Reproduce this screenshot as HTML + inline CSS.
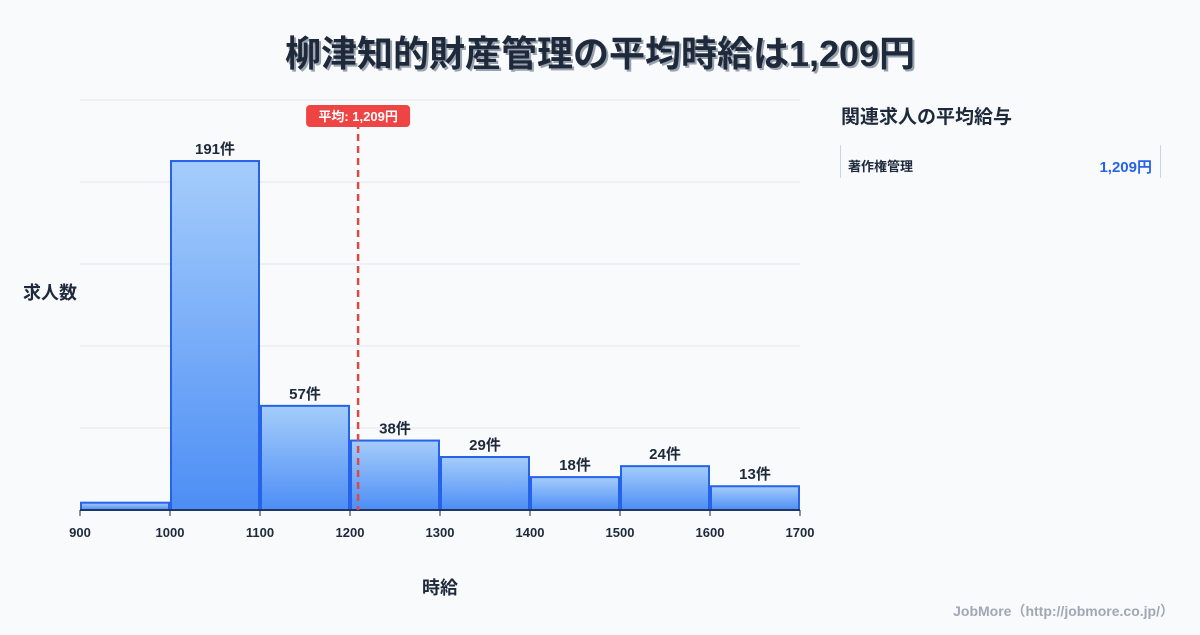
<!DOCTYPE html>
<html><head><meta charset="utf-8"><style>
body{margin:0;background:#f8fafc;width:1200px;height:630px;overflow:hidden;font-family:"Liberation Sans","Noto Sans CJK JP",sans-serif;}
svg text{font-family:"Liberation Sans","Noto Sans CJK JP",sans-serif;}
</style></head><body>
<svg width="1200" height="630">
<defs><linearGradient id="g" x1="0" y1="0" x2="0" y2="1"><stop offset="0" stop-color="#a5cdfb"/><stop offset="1" stop-color="#4d8ef5"/></linearGradient></defs>
<text x="602" y="68" text-anchor="middle" font-size="36" font-weight="bold" fill="#9aa3ad">柳津知的財産管理の平均時給は1,209円</text>
<text x="600" y="66" text-anchor="middle" font-size="36" font-weight="bold" fill="#1e293b">柳津知的財産管理の平均時給は1,209円</text>
<g id="grid"></g><g id="bars"></g><g id="xt"></g>
<line x1="80" y1="510" x2="800" y2="510" stroke="#1e293b" stroke-width="1.5"/>
<line id="mean" y1="122" y2="510" stroke="#e04848" stroke-width="2.5" stroke-dasharray="7,5"/>
<rect id="mlab" y="105" width="104" height="22" rx="4" fill="#ef4444"/>
<text id="mtext" y="121" text-anchor="middle" font-size="13" font-weight="bold" fill="#fff">平均: 1,209円</text>
<text x="50" y="299" text-anchor="middle" font-size="18" font-weight="bold" fill="#1e293b">求人数</text>
<text x="440" y="594" text-anchor="middle" font-size="18" font-weight="bold" fill="#1e293b">時給</text>
<text x="841" y="123" font-size="19" font-weight="bold" fill="#1e293b">関連求人の平均給与</text>
<line x1="840.5" y1="145" x2="840.5" y2="178" stroke="#cbd5e1"/>
<line x1="1160.5" y1="145" x2="1160.5" y2="178" stroke="#cbd5e1"/>
<text x="848" y="171" font-size="13" font-weight="bold" fill="#1e293b">著作権管理</text>
<text x="1152" y="172" text-anchor="end" font-size="15" font-weight="bold" fill="#2563eb">1,209円</text>
<text x="1174" y="616" text-anchor="end" font-size="14" font-weight="bold" fill="#a0a8b3">JobMore（http://jobmore.co.jp/）</text>
</svg>
<script>
const binStarts=[900,1000,1100,1200,1300,1400,1500,1600];
const counts=[4,191,57,38,29,18,24,13];
const labels=["","191件","57件","38件","29件","18件","24件","13件"];
const xTicks=[900,1000,1100,1200,1300,1400,1500,1600,1700];
const meanValue=1209;
const NS="http://www.w3.org/2000/svg";
const X=v=>80+(v-900)*0.9;
const Y=v=>510-v*(410/224.4);
function mk(t,a,p){const e=document.createElementNS(NS,t);for(const k in a)e.setAttribute(k,a[k]);p.appendChild(e);return e;}
const grid=document.getElementById('grid');
for(let i=0;i<5;i++){const l=mk('line',{x1:80,x2:800,y1:100+i*82,y2:100+i*82,stroke:'#e2e8f0'},grid);

}
const bars=document.getElementById('bars');
binStarts.forEach((s,i)=>{const x0=X(s)+1,x1=X(s+100)-1,y=Y(counts[i]);
const r=mk('rect',{x:x0,y:y,width:x1-x0,height:510-y,fill:'url(#g)',stroke:'#2563eb','stroke-width':2},bars);


if(labels[i]){const t=mk('text',{x:(x0+x1)/2,y:y-7,'text-anchor':'middle','font-size':15,'font-weight':'bold',fill:'#1e293b'},bars);t.textContent=labels[i];

}});
const xt=document.getElementById('xt');
xTicks.forEach(v=>{const l=mk('line',{x1:X(v),x2:X(v),y1:510,y2:516,stroke:'#1e293b'},xt);


const t=mk('text',{x:X(v),y:537,'text-anchor':'middle','font-size':13,'font-weight':'bold',fill:'#1e293b'},xt);t.textContent=v;

});
const mx=X(meanValue);
const ml=document.getElementById('mean');ml.setAttribute('x1',mx);ml.setAttribute('x2',mx);
document.getElementById('mlab').setAttribute('x',mx-52);
document.getElementById('mtext').setAttribute('x',mx);
</script>
</body></html>
